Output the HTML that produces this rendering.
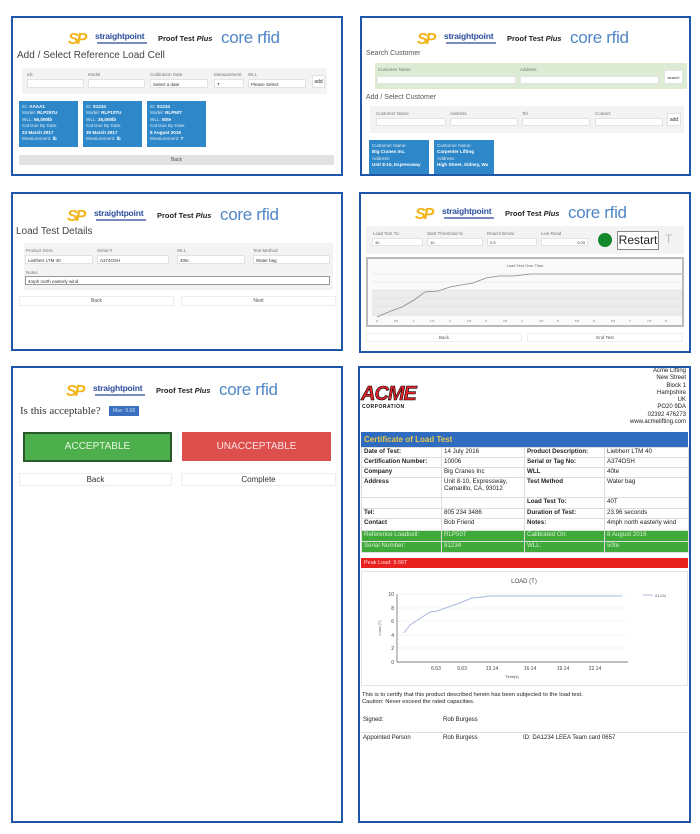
<!DOCTYPE html>
<html><head><meta charset="utf-8"><style>
*{margin:0;padding:0;box-sizing:border-box}
body{width:700px;height:834px;background:#fff;position:relative;overflow:hidden;font-family:"Liberation Sans",sans-serif;color:#333}
.a{position:absolute}
.panel{position:absolute;border:2px solid #1f57a8;background:#fff}
.logo{position:absolute;width:230px;height:22px}
.logo .sp{position:absolute;left:0;top:1px;font:italic bold 16px "Liberation Sans",sans-serif;color:#f2b418;letter-spacing:-2px}
.logo .st{position:absolute;left:27px;top:1px;font:bold 8.5px "Liberation Sans",sans-serif;color:#2d4f9e;letter-spacing:-0.2px}
.logo .sub{position:absolute;left:29px;top:12px;width:50px;height:1.5px;background:#7b8bbf}
.logo .pt{position:absolute;left:90px;top:4px;font:bold 7.5px "Liberation Sans",sans-serif;color:#222}
.logo .cr{position:absolute;left:153px;top:-2px;font:17px "Liberation Sans",sans-serif;color:#4f86c6;letter-spacing:-0.3px}
.gbox{position:absolute;background:#f3f3f3}
.inp{position:absolute;background:#fff;border:1px solid #e2e2e2}
.lbl{position:absolute;font-size:4.5px;color:#777}
.card{position:absolute;background:#2e87c8;color:#dbe9f6;font-size:4.6px;line-height:6.4px;padding:3px 3px}
.card b{color:#fff}
.btn{position:absolute;border:1px solid #eee;background:#fff;text-align:center;color:#555}
td{border:1px solid #ddd;font-size:6.2px;padding:0 2px;color:#222;vertical-align:top}
</style></head><body>

<!-- Panel 1 -->
<div class="panel" style="left:11px;top:16px;width:332px;height:160px"></div>
<div class="logo" style="left:68px;top:30px"><span class="sp">SP</span><span class="st">straightpoint</span><span class="sub"></span><span class="pt">Proof Test <i>Plus</i></span><span class="cr">core rfid</span></div>
<div class="a" style="left:17px;top:50px;font-size:10px;color:#444">Add / Select Reference Load Cell</div>
<div class="gbox" style="left:22px;top:68px;width:305px;height:26px"></div>
<div class="lbl" style="left:27px;top:72px">Idc</div><div class="lbl" style="left:88px;top:72px">Model</div><div class="lbl" style="left:150px;top:72px">Calibration Date</div><div class="lbl" style="left:214px;top:72px">Measurement</div><div class="lbl" style="left:248px;top:72px">WLL</div>
<div class="inp" style="left:27px;top:79px;width:57px;height:9px"></div>
<div class="inp" style="left:88px;top:79px;width:57px;height:9px"></div>
<div class="inp" style="left:150px;top:79px;width:58px;height:9px;font-size:4.5px;padding:2px">Select a date</div>
<div class="inp" style="left:214px;top:79px;width:30px;height:9px;font-size:4.5px;padding:2px">T</div>
<div class="inp" style="left:248px;top:79px;width:58px;height:9px;font-size:4.5px;padding:2px">Please Select</div>
<div class="inp" style="left:312px;top:75px;width:13px;height:13px;font-size:5px;text-align:center;line-height:12px">add</div>
<div class="card" style="left:19px;top:101px;width:59px;height:46px">ID: <b>AAAA1</b><br>Model: <b>RLP25TU</b><br>WLL: <b>55,000lb</b><br>Cal Due By Date:<br><b>23 March 2017</b><br>Measurement: <b>lb</b></div>
<div class="card" style="left:83px;top:101px;width:59px;height:46px">ID: <b>81234</b><br>Model: <b>RLP10TU</b><br>WLL: <b>26,000lb</b><br>Cal Due By Date:<br><b>30 March 2017</b><br>Measurement: <b>lb</b></div>
<div class="card" style="left:147px;top:101px;width:59px;height:46px">ID: <b>81234</b><br>Model: <b>RLP50T</b><br>WLL: <b>50te</b><br>Cal Due By Date:<br><b>8 August 2016</b><br>Measurement: <b>T</b></div>
<div class="a" style="left:19px;top:155px;width:315px;height:10px;background:#e2e2e2;font-size:5px;text-align:center;line-height:10px;color:#555">Back</div>

<!-- Panel 2 -->
<div class="panel" style="left:360px;top:16px;width:331px;height:160px"></div>
<div class="logo" style="left:417px;top:30px"><span class="sp">SP</span><span class="st">straightpoint</span><span class="sub"></span><span class="pt">Proof Test <i>Plus</i></span><span class="cr">core rfid</span></div>
<div class="a" style="left:366px;top:50px;font-size:7px;color:#555">Search Customer</div>
<div class="a" style="left:375px;top:63px;width:312px;height:26px;background:#dcebd4"></div>
<div class="lbl" style="left:378px;top:67px">Customer Name</div><div class="lbl" style="left:520px;top:67px">Address</div>
<div class="inp" style="left:377px;top:76px;width:139px;height:8px"></div>
<div class="inp" style="left:520px;top:76px;width:139px;height:8px"></div>
<div class="inp" style="left:664px;top:70px;width:19px;height:14px;font-size:4px;text-align:center;line-height:14px">search</div>
<div class="a" style="left:366px;top:94px;font-size:7px;color:#555">Add / Select Customer</div>
<div class="gbox" style="left:370px;top:106px;width:314px;height:27px"></div>
<div class="lbl" style="left:376px;top:111px">Customer Name</div><div class="lbl" style="left:450px;top:111px">Address</div><div class="lbl" style="left:522px;top:111px">Tel</div><div class="lbl" style="left:595px;top:111px">Contact</div>
<div class="inp" style="left:376px;top:118px;width:70px;height:8px"></div>
<div class="inp" style="left:450px;top:118px;width:68px;height:8px"></div>
<div class="inp" style="left:522px;top:118px;width:68px;height:8px"></div>
<div class="inp" style="left:595px;top:118px;width:68px;height:8px"></div>
<div class="inp" style="left:667px;top:113px;width:14px;height:13px;font-size:5px;text-align:center;line-height:12px">add</div>
<div class="card" style="left:369px;top:140px;width:60px;height:34px">Customer Name:<br><b>Big Cranes Inc.</b><br>Address:<br><b>Unit 8-10, Expressway</b></div>
<div class="card" style="left:434px;top:140px;width:60px;height:34px">Customer Name:<br><b>Carpenter Lifting</b><br>Address:<br><b>High Street, Sidney, Wa</b></div>

<!-- Panel 3 -->
<div class="panel" style="left:11px;top:192px;width:332px;height:159px"></div>
<div class="logo" style="left:67px;top:207px"><span class="sp">SP</span><span class="st">straightpoint</span><span class="sub"></span><span class="pt">Proof Test <i>Plus</i></span><span class="cr">core rfid</span></div>
<div class="a" style="left:16px;top:226px;font-size:10px;color:#444">Load Test Details</div>
<div class="gbox" style="left:24px;top:243px;width:309px;height:47px"></div>
<div class="lbl" style="left:26px;top:248px">Product Desc</div><div class="lbl" style="left:97px;top:248px">Serial #</div><div class="lbl" style="left:177px;top:248px">WLL</div><div class="lbl" style="left:253px;top:248px">Test Method</div>
<div class="inp" style="left:25px;top:255px;width:68px;height:9px;font-size:4.5px;padding:2px">Liebherr LTM 40</div>
<div class="inp" style="left:97px;top:255px;width:72px;height:9px;font-size:4.5px;padding:2px">A374OSH</div>
<div class="inp" style="left:177px;top:255px;width:68px;height:9px;font-size:4.5px;padding:2px">40te</div>
<div class="inp" style="left:253px;top:255px;width:77px;height:9px;font-size:4.5px;padding:2px">Water bag</div>
<div class="lbl" style="left:26px;top:270px">Notes</div>
<div class="inp" style="left:25px;top:276px;width:305px;height:9px;border-color:#999;font-size:4.5px;padding:2px">4mph north easterly wind</div>
<div class="btn" style="left:19px;top:296px;width:155px;height:10px;font-size:5px;line-height:9px">Back</div>
<div class="btn" style="left:181px;top:296px;width:155px;height:10px;font-size:5px;line-height:9px">Next</div>

<!-- Panel 4 -->
<div class="panel" style="left:359px;top:192px;width:332px;height:161px"></div>
<div class="logo" style="left:415px;top:205px"><span class="sp">SP</span><span class="st">straightpoint</span><span class="sub"></span><span class="pt">Proof Test <i>Plus</i></span><span class="cr">core rfid</span></div>
<div class="gbox" style="left:366px;top:226px;width:318px;height:28px"></div>
<div class="lbl" style="left:373px;top:231px">Load Test To:</div><div class="lbl" style="left:427px;top:231px">Start Threshold %</div><div class="lbl" style="left:487px;top:231px">Read Interval</div><div class="lbl" style="left:541px;top:231px">Live Read</div>
<div class="inp" style="left:372px;top:238px;width:51px;height:8px;font-size:4px;padding:1px 2px">40</div>
<div class="inp" style="left:427px;top:238px;width:56px;height:8px;font-size:4px;padding:1px 2px">10</div>
<div class="inp" style="left:487px;top:238px;width:50px;height:8px;font-size:4px;padding:1px 2px">0.5</div>
<div class="inp" style="left:541px;top:238px;width:47px;height:8px;font-size:4px;padding:1px 2px;text-align:right">0.03</div>
<div class="a" style="left:598px;top:233px;width:14px;height:14px;border-radius:50%;background:#128a2c"></div>
<div class="a" style="left:617px;top:231px;width:42px;height:19px;border:1px solid #888;background:#fff;font-size:12px;line-height:17px;text-align:center;color:#222">Restart</div>
<div class="a" style="left:665px;top:232px;font-size:12px;color:#bbb">T</div>
<div class="a" style="left:366px;top:257px;width:318px;height:70px;border:2px solid #bbb;background:#fafafa"></div>
<div class="a" style="left:366px;top:263px;width:318px;text-align:center;font-size:4px;color:#666">Load Test Over Time</div>
<svg class="a" style="left:368px;top:270px" width="314" height="55">
<rect x="4" y="20" width="310" height="26" fill="#ececec"/>
<g stroke="#ddd" stroke-width="0.6"><line x1="4" y1="4" x2="314" y2="4"/><line x1="4" y1="12" x2="314" y2="12"/><line x1="4" y1="20" x2="314" y2="20"/><line x1="4" y1="28" x2="314" y2="28"/><line x1="4" y1="36" x2="314" y2="36"/><line x1="4" y1="44" x2="314" y2="44"/></g>
<polyline fill="none" stroke="#888" stroke-width="0.8" points="9,43 23,37 34,33 46,26 57,18 70,17 82,13 93,11 105,9 118,4 131,2 145,2 163,0 180,0 200,0 220,0 240,0 260,0 280,0 314,0" transform="translate(0,4)"/>
<g fill="#666" font-size="3" font-family="Liberation Sans">
<text x="8" y="52">0</text><text x="26" y="52">0.5</text><text x="45" y="52">1</text><text x="62" y="52">1.5</text><text x="81" y="52">2</text><text x="99" y="52">2.5</text><text x="117" y="52">3</text><text x="135" y="52">3.5</text><text x="153" y="52">4</text><text x="171" y="52">4.5</text><text x="189" y="52">5</text><text x="207" y="52">5.5</text><text x="225" y="52">6</text><text x="243" y="52">6.5</text><text x="261" y="52">7</text><text x="279" y="52">7.5</text><text x="297" y="52">8</text></g>
</svg>
<div class="btn" style="left:366px;top:333px;width:156px;height:9px;font-size:4.5px;line-height:8px">Back</div>
<div class="btn" style="left:527px;top:333px;width:156px;height:9px;font-size:4.5px;line-height:8px">End Test</div>

<!-- Panel 5 -->
<div class="panel" style="left:11px;top:366px;width:332px;height:457px"></div>
<div class="logo" style="left:66px;top:382px"><span class="sp">SP</span><span class="st">straightpoint</span><span class="sub"></span><span class="pt">Proof Test <i>Plus</i></span><span class="cr">core rfid</span></div>
<div class="a" style="left:20px;top:405px;font:11px 'Liberation Serif',serif;color:#333">Is this acceptable?</div>
<div class="a" style="left:109px;top:406px;width:30px;height:10px;background:#3a6fc0;font-size:5px;color:#cde;text-align:center;line-height:10px">Max: 9.68</div>
<div class="a" style="left:23px;top:432px;width:149px;height:30px;background:#4dae4c;border:2px solid #2a5a2a;color:#e6f5e0;font-size:10px;text-align:center;line-height:26px">ACCEPTABLE</div>
<div class="a" style="left:182px;top:432px;width:149px;height:29px;background:#dc4f4c;color:#fbe3e3;font-size:10px;text-align:center;line-height:29px">UNACCEPTABLE</div>
<div class="btn" style="left:19px;top:473px;width:153px;height:13px;font-size:8px;line-height:12px;color:#333">Back</div>
<div class="btn" style="left:181px;top:473px;width:155px;height:13px;font-size:8px;line-height:12px;color:#333">Complete</div>

<!-- Panel 6 -->
<div class="panel" style="left:358px;top:366px;width:333px;height:457px"></div>
<div class="a" style="left:361px;top:383px;font:italic 900 20px 'Liberation Sans',sans-serif;color:#e2232a;letter-spacing:-1px;-webkit-text-stroke:0.6px #000">ACME</div>
<div class="a" style="left:362px;top:404px;font:bold 5px 'Liberation Sans',sans-serif;color:#111;letter-spacing:0.5px">CORPORATION</div>
<div class="a" style="left:560px;top:368px;width:126px;text-align:right;font-size:6px;line-height:7.3px;color:#222">Acme Lifting<br>New Street<br>Block 1<br>Hampshire<br>UK<br>PO20 9DA<br>02392 476273<br>www.acmelifting.com</div>
<div class="a" style="left:361px;top:432px;width:327px;height:15px;background:#2f6bbf;color:#e8c74a;font-size:8px;font-weight:bold;line-height:15px;padding-left:3px">Certificate of Load Test</div>
<table class="a" style="left:361px;top:447px;width:327px;border-collapse:collapse;table-layout:fixed">
<col style="width:80px"><col style="width:83px"><col style="width:80px"><col style="width:84px">
<tr style="height:10px"><td><b>Date of Test:</b></td><td>14 July 2016</td><td><b>Product Description:</b></td><td>Liebherr LTM 40</td></tr>
<tr style="height:10px"><td><b>Certification Number:</b></td><td>10006</td><td><b>Serial or Tag No:</b></td><td>A374OSH</td></tr>
<tr style="height:10px"><td><b>Company</b></td><td>Big Cranes Inc</td><td><b>WLL</b></td><td>40te</td></tr>
<tr style="height:20px"><td><b>Address</b></td><td>Unit 8-10, Expressway,<br>Camarillo, CA, 93012</td><td><b>Test Method</b></td><td>Water bag</td></tr>
<tr style="height:11px"><td></td><td></td><td><b>Load Test To:</b></td><td>40T</td></tr>
<tr style="height:10px"><td><b>Tel:</b></td><td>805 234 3486</td><td><b>Duration of Test:</b></td><td>23.96 seconds</td></tr>
<tr style="height:12px"><td><b>Contact</b></td><td>Bob Friend</td><td><b>Notes:</b></td><td>4mph north easterly wind</td></tr>
<tr style="height:11px;background:#3faa3a"><td style="color:#d8f0d0">Reference Loadcell:</td><td style="color:#d8f0d0">RLP50T</td><td style="color:#d8f0d0">Calibrated On:</td><td style="color:#d8f0d0">8 August 2016</td></tr>
<tr style="height:11px;background:#3faa3a"><td style="color:#d8f0d0">Serial Number:</td><td style="color:#d8f0d0">81234</td><td style="color:#d8f0d0">WLL:</td><td style="color:#d8f0d0">50te</td></tr>
</table>
<div class="a" style="left:361px;top:558px;width:327px;height:10px;background:#e8231f;color:#fdd;font-size:5.5px;line-height:10px;padding-left:3px">Peak Load: 9.66T</div>
<div class="a" style="left:361px;top:571px;width:327px;height:115px;border:1px solid #e3e3e3"></div>
<svg class="a" style="left:361px;top:571px" width="327" height="115">
<text x="163" y="12" font-size="6" text-anchor="middle" fill="#444" font-family="Liberation Sans">LOAD (T)</text>
<g stroke="#eee" stroke-width="0.6"><line x1="36" y1="23" x2="267" y2="23"/><line x1="36" y1="37" x2="267" y2="37"/><line x1="36" y1="50" x2="267" y2="50"/><line x1="36" y1="64" x2="267" y2="64"/><line x1="36" y1="77" x2="267" y2="77"/></g>
<line x1="36" y1="23" x2="36" y2="91" stroke="#555" stroke-width="0.7"/>
<line x1="36" y1="91" x2="267" y2="91" stroke="#555" stroke-width="0.7"/>
<g font-size="5" fill="#444" font-family="Liberation Sans" text-anchor="end"><text x="33" y="25">10</text><text x="33" y="39">8</text><text x="33" y="52">6</text><text x="33" y="66">4</text><text x="33" y="79">2</text><text x="33" y="93">0</text></g>
<g font-size="5" fill="#444" font-family="Liberation Sans" text-anchor="middle"><text x="75" y="99">6.63</text><text x="101" y="99">9.63</text><text x="131" y="99">13.14</text><text x="169" y="99">16.14</text><text x="202" y="99">19.14</text><text x="234" y="99">22.14</text><text x="151" y="107" font-size="4">Time(s)</text></g>
<text x="20" y="57" font-size="4" fill="#666" transform="rotate(-90 20 57)" text-anchor="middle" font-family="Liberation Sans">Load (T)</text>
<polyline fill="none" stroke="#a9bbdd" stroke-width="1" points="43,62 49,54 69,41 76,40 96,33 111,27 122,26 129,25 261,25"/>
<line x1="282" y1="24" x2="292" y2="24" stroke="#a9bbdd" stroke-width="1"/>
<text x="294" y="26" font-size="4" fill="#666" font-family="Liberation Sans">81234</text>
</svg>
<div class="a" style="left:362px;top:692px;font-size:5.8px;line-height:7px;color:#222">This is to certify that this product described herein has been subjected to the load test.<br>Caution: Never exceed the rated capacities.</div>
<div class="a" style="left:363px;top:717px;font-size:6px;color:#222">Signed:</div>
<div class="a" style="left:443px;top:717px;font-size:6px;color:#222">Rob Burgess</div>
<div class="a" style="left:361px;top:732px;width:327px;height:1px;background:#ddd"></div>
<div class="a" style="left:363px;top:735px;font-size:6px;color:#222">Appointed Person</div>
<div class="a" style="left:443px;top:735px;font-size:6px;color:#222">Rob Burgess</div>
<div class="a" style="left:523px;top:735px;font-size:6px;color:#222">ID: DA1234 LEEA Team card 0657</div>

</body></html>
